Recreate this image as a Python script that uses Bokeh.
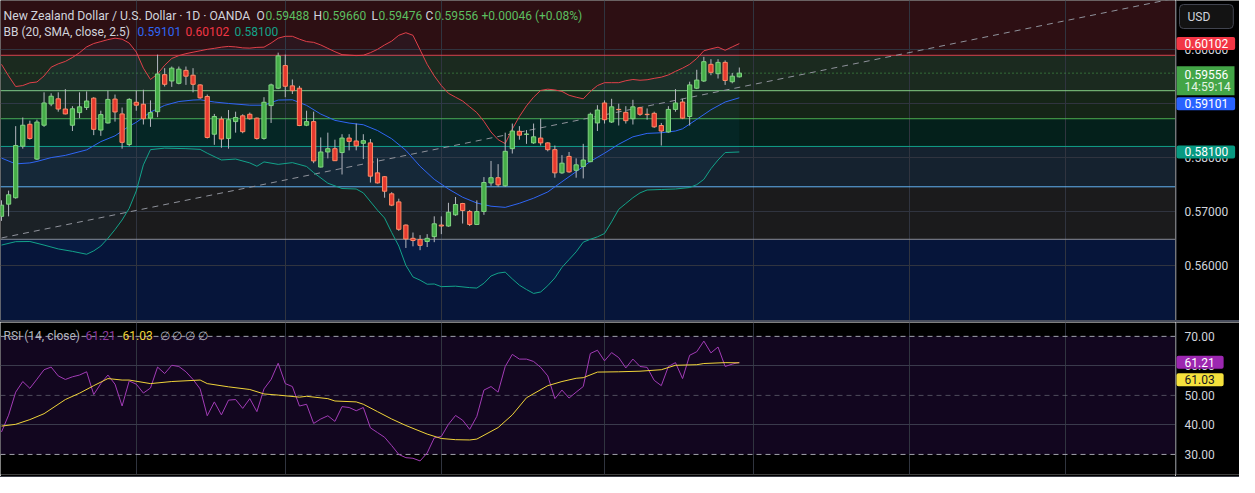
from bokeh.plotting import figure
from bokeh.models import (Range1d, FixedTicker, BoxAnnotation, Span, Label, Div, ColumnDataSource)
from bokeh.core.properties import value
from bokeh.layouts import column, row
from bokeh.embed import file_html
from bokeh.resources import INLINE

# ---------------- data (NZD/USD daily) ----------------
open_ = [0.56911, 0.57136, 0.57255, 0.58207, 0.58612, 0.57969, 0.58594, 0.58987, 0.59082, 0.58893,
         0.58594, 0.58827, 0.58921, 0.59094, 0.58505, 0.58636, 0.59077, 0.58803, 0.58237, 0.59018,
         0.58982, 0.58725, 0.58844, 0.59528, 0.59411, 0.59368, 0.59607, 0.59518, 0.59339, 0.59125,
         0.58428, 0.58707, 0.58350, 0.58661, 0.58768, 0.58796, 0.58725, 0.58350, 0.58957, 0.59278,
         0.59696, 0.59321, 0.59278, 0.58594, 0.58661, 0.57821, 0.58100, 0.58161, 0.58089, 0.58357,
         0.58303, 0.58260, 0.58268, 0.57714, 0.57643, 0.57327, 0.57178, 0.56750, 0.56505, 0.56482,
         0.56446, 0.56536, 0.56750, 0.56732, 0.56939, 0.57148, 0.57000, 0.56761, 0.57000, 0.57528,
         0.57625, 0.57475, 0.58161, 0.58482, 0.58425, 0.58268, 0.58357, 0.58268, 0.58143, 0.57714,
         0.58018, 0.57761, 0.57832, 0.57921, 0.58636, 0.59005, 0.58653, 0.58887, 0.58832, 0.58714,
         0.58916, 0.58796, 0.58814, 0.58589, 0.58469, 0.58886, 0.59023, 0.58755, 0.59278, 0.59411,
         0.59719, 0.59546, 0.59755, 0.59398, 0.59488]
high = [0.57207, 0.57386, 0.58577, 0.58737, 0.58678, 0.58696, 0.59202, 0.59184, 0.59202, 0.59261,
        0.58946, 0.59202, 0.59219, 0.59112, 0.58862, 0.59232, 0.59161, 0.58921, 0.59094, 0.59232,
        0.59250, 0.59053, 0.59898, 0.59648, 0.59678, 0.59678, 0.59678, 0.59648, 0.59350, 0.59161,
        0.58803, 0.58755, 0.58875, 0.58844, 0.58796, 0.58827, 0.58737, 0.59112, 0.59362, 0.59934,
        0.59898, 0.59439, 0.59321, 0.58862, 0.58844, 0.58368, 0.58457, 0.58327, 0.58428, 0.58428,
        0.58625, 0.58428, 0.58339, 0.57982, 0.57653, 0.57357, 0.57237, 0.56761, 0.56612, 0.56564,
        0.56582, 0.56911, 0.56911, 0.57161, 0.57268, 0.57160, 0.57029, 0.57207, 0.57636, 0.57934,
        0.57875, 0.58457, 0.58625, 0.58577, 0.58505, 0.58625, 0.58714, 0.58278, 0.58219, 0.58041,
        0.58100, 0.57982, 0.58250, 0.58827, 0.58964, 0.59053, 0.59082, 0.58993, 0.58946, 0.59064,
        0.58934, 0.58904, 0.58844, 0.58636, 0.58946, 0.59261, 0.59082, 0.59398, 0.59618, 0.59857,
        0.59814, 0.59814, 0.59791, 0.59559, 0.59660]
low = [0.56827, 0.56911, 0.57237, 0.58161, 0.58327, 0.57952, 0.58564, 0.58946, 0.58844, 0.58795,
       0.58487, 0.58725, 0.58875, 0.58411, 0.58398, 0.58625, 0.58661, 0.58161, 0.58207, 0.58862,
       0.58607, 0.58564, 0.58743, 0.59309, 0.59303, 0.59350, 0.59339, 0.59202, 0.59082, 0.58350,
       0.58232, 0.58178, 0.58161, 0.58457, 0.58446, 0.58696, 0.58327, 0.58327, 0.58636, 0.59261,
       0.59112, 0.59171, 0.58577, 0.58577, 0.57893, 0.57814, 0.57982, 0.57934, 0.57684, 0.58130,
       0.58130, 0.57969, 0.57535, 0.57518, 0.57255, 0.57100, 0.56643, 0.56327, 0.56357, 0.56286,
       0.56344, 0.56434, 0.56582, 0.56719, 0.56921, 0.56778, 0.56732, 0.56750, 0.56939, 0.57475,
       0.57457, 0.57457, 0.58071, 0.58327, 0.58250, 0.58250, 0.58219, 0.58112, 0.57625, 0.57696,
       0.57714, 0.57625, 0.57612, 0.57911, 0.58487, 0.58625, 0.58636, 0.58589, 0.58625, 0.58607,
       0.58768, 0.58696, 0.58546, 0.58219, 0.58457, 0.58844, 0.58707, 0.58589, 0.59261, 0.59393,
       0.59518, 0.59457, 0.59339, 0.59368, 0.59476]
close = [0.57118, 0.57309, 0.58219, 0.58594, 0.58350, 0.58653, 0.59005, 0.59130, 0.58893, 0.58803,
         0.58898, 0.58934, 0.59041, 0.58518, 0.58791, 0.59071, 0.58839, 0.58278, 0.59071, 0.58964,
         0.58714, 0.58827, 0.59541, 0.59350, 0.59648, 0.59630, 0.59500, 0.59350, 0.59100, 0.58368,
         0.58755, 0.58339, 0.58696, 0.58737, 0.58475, 0.58714, 0.58350, 0.59018, 0.59339, 0.59875,
         0.59314, 0.59232, 0.58589, 0.58661, 0.57934, 0.58100, 0.58161, 0.57939, 0.58357, 0.58296,
         0.58214, 0.58309, 0.57653, 0.57528, 0.57375, 0.57118, 0.56671, 0.56493, 0.56464, 0.56375,
         0.56505, 0.56773, 0.56732, 0.56987, 0.57130, 0.57018, 0.56761, 0.57000, 0.57536, 0.57625,
         0.57493, 0.58112, 0.58487, 0.58411, 0.58432, 0.58380, 0.58268, 0.58143, 0.57714, 0.57893,
         0.57732, 0.57862, 0.57952, 0.58796, 0.58875, 0.58696, 0.58934, 0.58880, 0.58678, 0.58934,
         0.58796, 0.58790, 0.58564, 0.58487, 0.58886, 0.59005, 0.58725, 0.59339, 0.59428, 0.59768,
         0.59571, 0.59755, 0.59421, 0.59500, 0.59556]

# Bollinger Bands (20, SMA, close, 2.5)
bb_upper = [0.59719, 0.59505, 0.59309, 0.59327, 0.59377, 0.59393, 0.59505, 0.59666, 0.59728, 0.59773,
            0.59845, 0.59934, 0.60041, 0.60103, 0.60139, 0.60175, 0.60202, 0.60184, 0.60112, 0.59946,
            0.59648, 0.59439, 0.59541, 0.59702, 0.59827, 0.59880, 0.59916, 0.59943, 0.59969, 0.59996,
            0.60014, 0.60036, 0.60050, 0.60041, 0.60023, 0.60018, 0.60032, 0.60036, 0.60112, 0.60202,
            0.60237, 0.60237, 0.60184, 0.60139, 0.60125, 0.60077, 0.60014, 0.59952, 0.59898, 0.59889,
            0.59880, 0.59886, 0.59934, 0.59996, 0.60077, 0.60148, 0.60255, 0.60303, 0.60255, 0.59987,
            0.59719, 0.59505, 0.59327, 0.59184, 0.59112, 0.59041, 0.58934, 0.58827, 0.58666, 0.58469,
            0.58327, 0.58255, 0.58523, 0.58755, 0.58952, 0.59112, 0.59237, 0.59260, 0.59246, 0.59219,
            0.59148, 0.59112, 0.59082, 0.59219, 0.59327, 0.59380, 0.59380, 0.59380, 0.59416, 0.59439,
            0.59425, 0.59434, 0.59460, 0.59482, 0.59523, 0.59589, 0.59648, 0.59719, 0.59827, 0.59969,
            0.60005, 0.60036, 0.59978, 0.60041, 0.60102]
bb_mid_x = [0, 2, 4, 5, 7, 9, 12, 14, 16, 18, 19, 21, 23, 25, 27, 28, 30, 32, 35, 37,
            39, 41, 43, 45, 47, 49, 51, 53, 55, 57, 59, 61, 63, 65, 67, 69, 71, 73, 75, 77,
            79, 81, 83, 85, 87, 89, 91, 93, 95, 96, 98, 100, 102, 104]
bb_mid = [0.57987, 0.57880, 0.57898, 0.57925, 0.57996, 0.58037, 0.58139, 0.58291, 0.58398, 0.58577,
          0.58648, 0.58836, 0.58961, 0.59032, 0.59059, 0.59064, 0.59023, 0.58996, 0.58964, 0.58964,
          0.59059, 0.59064, 0.58961, 0.58800, 0.58684, 0.58634, 0.58603, 0.58496, 0.58344, 0.58130,
          0.57836, 0.57594, 0.57416, 0.57264, 0.57157, 0.57098, 0.57077, 0.57152, 0.57246, 0.57362,
          0.57550, 0.57737, 0.57925, 0.58077, 0.58243, 0.58380, 0.58443, 0.58455, 0.58487, 0.58528,
          0.58702, 0.58880, 0.59023, 0.59101]
bb_low_x = [0, 2, 4, 6, 8, 10, 12, 13, 14, 15, 16, 17, 18, 19, 20, 21, 23, 26, 28, 29,
            31, 33, 35, 36, 37, 39, 41, 43, 44, 46, 48, 50, 51, 53, 54, 55, 56, 57, 58, 59,
            60, 61, 62, 64, 66, 67, 68, 69, 70, 71, 72, 73, 74, 75, 76, 77, 78, 79, 80, 81,
            82, 83, 84, 85, 86, 87, 88, 89, 90, 91, 93, 95, 97, 98, 99, 100, 101, 102, 104]
bb_low = [0.56380, 0.56443, 0.56446, 0.56380, 0.56309, 0.56264, 0.56211, 0.56273, 0.56362, 0.56505,
          0.56666, 0.56844, 0.57059, 0.57380, 0.57862, 0.58143, 0.58171, 0.58161, 0.58148, 0.58077,
          0.57952, 0.57969, 0.57898, 0.57836, 0.57916, 0.57871, 0.57903, 0.57832, 0.57719, 0.57523,
          0.57425, 0.57416, 0.57344, 0.57023, 0.56880, 0.56612, 0.56362, 0.56005, 0.55791, 0.55732,
          0.55657, 0.55661, 0.55612, 0.55621, 0.55594, 0.55586, 0.55675, 0.55809, 0.55862, 0.55880,
          0.55755, 0.55639, 0.55559, 0.55487, 0.55514, 0.55630, 0.55773, 0.55969, 0.56112, 0.56255,
          0.56434, 0.56487, 0.56532, 0.56594, 0.56809, 0.57041, 0.57148, 0.57255, 0.57344, 0.57398,
          0.57407, 0.57416, 0.57443, 0.57496, 0.57594, 0.57791, 0.57952, 0.58089, 0.58100]

# RSI (14, close) and its moving average
rsi = [37.6, 43.3, 51.1, 54.7, 52.4, 55.5, 58.7, 59.6, 56.6, 55.4,
       56.3, 56.9, 58.0, 50.3, 54.0, 56.9, 53.8, 46.4, 54.9, 53.8,
       50.8, 52.5, 59.6, 57.4, 60.2, 59.8, 58.0, 55.4, 52.2, 43.1,
       47.8, 43.4, 48.4, 48.6, 45.6, 48.9, 44.5, 52.2, 55.4, 60.9,
       54.0, 53.0, 46.4, 47.0, 40.5, 42.0, 43.1, 41.2, 46.2, 45.9,
       44.8, 45.9, 39.0, 37.4, 35.8, 33.0, 30.0, 28.9, 28.7, 27.8,
       30.5, 35.6, 36.1, 40.2, 43.2, 41.6, 38.5, 42.9, 51.8, 53.0,
       51.1, 59.8, 63.9, 62.3, 62.3, 61.5, 59.5, 56.6, 48.9, 51.8,
       49.1, 51.1, 53.0, 64.2, 65.3, 61.7, 64.5, 62.8, 59.3, 62.3,
       59.8, 59.5, 55.1, 53.3, 59.8, 61.1, 55.7, 63.6, 64.8, 68.4,
       64.4, 66.4, 59.8, 60.6, 61.21]
rsi_ma_x = [0, 2, 4, 6, 9, 11, 13, 15, 17, 18, 21, 24, 28, 29, 32, 35, 37, 39, 42, 43,
            46, 47, 50, 51, 53, 55, 57, 60, 62, 64, 66, 67, 70, 72, 74, 77, 79, 81, 82, 84,
            87, 90, 93, 95, 98, 99, 102, 104]
rsi_ma = [39.6, 40.2, 41.8, 43.8, 48.6, 50.75, 53.3, 55.7, 55.2, 55.2, 54.0, 54.7, 55.2, 54.0,
          52.9, 52.0, 50.5, 50.1, 49.4, 49.7, 48.9, 48.1, 47.8, 47.0, 44.5, 42.0, 39.8, 36.9,
          35.4, 35.0, 34.9, 35.2, 39.1, 43.4, 49.2, 53.3, 54.7, 55.8, 56.0, 57.9, 58.0, 58.2,
          58.7, 60.2, 60.4, 60.8, 61.1, 61.03]

# drawings: levels (top to bottom), trend line, month grid, scale ticks
fib_levels = [0.59886, 0.59232, 0.58714, 0.58202, 0.57457, 0.56487]
trend_x = [0, 165]
trend_y = [0.56512, 0.60927]
month_ticks = [19, 40, 62, 85, 106, 128, 150]
price_ticks = [0.56, 0.57, 0.58, 0.59, 0.60]
price_tick_labels = ["0.56000", "0.57000", "0.58000", "0.59000", "0.60000"]
rsi_ticks = [30, 40, 50, 60, 70]
rsi_tick_labels = ["30.00", "40.00", "50.00", "60.00", "70.00"]

# ---------------- layout / style ----------------
FONT = "Roboto"
X_START, X_END = -0.14, 165.48
P_BOTTOM, P_TOP = 0.54987, 0.60898
R_BOTTOM, R_TOP = 23.2, 74.7
FW, AXW, MH, RH = 1175, 64, 320, 152
PX = (P_TOP - P_BOTTOM) / MH          # price per screen pixel in the main pane
GRID = "#30343f"
TXT = "#d1d4dc"
AXIS_LINE = "#5d606b"
UP_FILL, UP_LINE = "#45ad48", "#80d482"
DN_FILL, DN_LINE = "#e6392f", "#ff8a65"

band_colors = ["#2d0f13", "#1b2a1f", "#152517", "#04201b", "#15222f", "#1b1b1c", "#06153a"]
level_colors = ["#d9444e", "#86cf86", "#4caf50", "#12a08a", "#64b5f6", "#8a8d96"]


def base_fig(w, h, xr, yr, bottom=0):
    f = figure(frame_width=w, frame_height=h, x_range=xr, y_range=yr,
               output_backend="svg", toolbar_location=None,
               x_axis_location=None, y_axis_location=None,
               min_border_left=0, min_border_right=0, min_border_top=0, min_border_bottom=bottom,
               background_fill_color="#000000", border_fill_color="#000000",
               outline_line_color=None)
    return f


p = base_fig(FW, MH, Range1d(X_START, X_END), Range1d(P_BOTTOM, P_TOP))

# background zones
bounds = [None] + fib_levels + [None]
for i, col in enumerate(band_colors):
    p.add_layout(BoxAnnotation(top=bounds[i], bottom=bounds[i + 1], fill_color=col,
                               fill_alpha=1.0, line_color=None, level="image"))

p.ygrid.ticker = FixedTicker(ticks=price_ticks)
p.ygrid.grid_line_color = GRID
p.xgrid.ticker = FixedTicker(ticks=month_ticks)
p.xgrid.grid_line_color = GRID

for lvl, col in zip(fib_levels, level_colors):
    p.add_layout(Span(location=lvl, dimension="width", line_color=col,
                      line_width=1, level="underlay"))

# BB fill between the bands
bb_x_all = list(range(len(bb_upper)))
p.patch(bb_x_all + bb_low_x[::-1], bb_upper + bb_low[::-1],
        fill_color="#2196f3", fill_alpha=0.05, line_color=None)

# trend line
p.line(trend_x, trend_y, line_color="#8f929b", line_width=1, line_dash="6 5")

# last price dotted line
p.add_layout(Span(location=close[-1], dimension="width", line_color="#4caf50",
                  line_width=1, line_dash="1 3", level="underlay"))

# BB lines
p.line(bb_x_all, bb_upper, line_color="#e0404a", line_width=1)
p.line(bb_mid_x, bb_mid, line_color="#2f66f5", line_width=1)
p.line(bb_low_x, bb_low, line_color="#13a38a", line_width=1)

# candles
idx = list(range(len(close)))
is_up = [c >= o for o, c in zip(open_, close)]
src = ColumnDataSource(dict(
    x=idx, high=high, low=low,
    top=[max(o, c) for o, c in zip(open_, close)],
    bottom=[min(o, c) for o, c in zip(open_, close)],
    fill=[UP_FILL if u else DN_FILL for u in is_up],
    line=[UP_LINE if u else DN_LINE for u in is_up],
))
p.segment(x0="x", y0="low", x1="x", y1="high", source=src, line_color="#b4b7bf", line_width=1)
p.vbar(x="x", width=0.6, top="top", bottom="bottom", fill_color="fill",
       line_color="line", line_width=1, source=src)


# legend texts
def stext(fig, x, y, text, color, size="12px"):
    fig.add_layout(Label(x=x, y=y, x_units="screen", y_units="screen", text=text,
                         text_color=color, text_font=FONT, text_font_size=size,
                         text_baseline="middle", text_align="left"))


GREEN_T = "#5cbf60"
L1 = MH - 15
stext(p, 3, L1, "New Zealand Dollar / U.S. Dollar · 1D · OANDA", TXT, "12.2px")
stext(p, 256, L1, "O", TXT)
stext(p, 265, L1, "0.59488", GREEN_T)
stext(p, 313, L1, "H", TXT)
stext(p, 322, L1, "0.59660", GREEN_T)
stext(p, 371, L1, "L", TXT)
stext(p, 378, L1, "0.59476", GREEN_T)
stext(p, 425, L1, "C", TXT)
stext(p, 434, L1, "0.59556", GREEN_T)
stext(p, 481, L1, "+0.00046 (+0.08%)", GREEN_T)
L2 = MH - 31
stext(p, 3, L2, "BB (20, SMA, close, 2.5)", TXT)
stext(p, 137, L2, "0.59101", "#2f66f5")
stext(p, 185, L2, "0.60102", "#f23645")
stext(p, 234, L2, "0.58100", "#13a38a")


# ---------------- price scales (right-hand columns) ----------------
def scale_fig(yr, h, ticks, labels, bottom=0):
    a = base_fig(AXW, h, Range1d(0, AXW), yr, bottom)
    a.xgrid.visible = False
    a.ygrid.visible = False
    a.add_layout(Span(location=0.5, dimension="height", line_color=AXIS_LINE, line_width=1))
    a.text(x=[9] * len(ticks), y=ticks, text=labels, text_color=TXT,
           text_font=value(FONT), text_font_size="12px",
           text_baseline="middle", text_align="left")
    return a


def badge(fig, y, text, bg, fg="#ffffff", y_offset=0, pad=None):
    fig.add_layout(Label(x=1, y=y, text=text, text_color=fg, text_font=FONT,
                         text_font_size="12px", text_baseline="middle", text_align="left",
                         background_fill_color=bg, border_radius=2, y_offset=y_offset,
                         padding=pad or dict(left=8, right=7, top=2, bottom=2)))


def plain(fig, x, y, text, color, y_offset=0):
    fig.add_layout(Label(x=x, y=y, text=text, text_color=color, text_font=FONT,
                         text_font_size="12px", text_baseline="middle", text_align="left",
                         y_offset=y_offset))


pa = scale_fig(p.y_range, MH, price_ticks, price_tick_labels)
badge(pa, 0.60102, "0.60102", "#f23645")
# last price badge: one green box holding price and bar countdown
last = close[-1]
pa.quad(left=[1], right=[59], top=[last + 7 * PX], bottom=[last - 22 * PX],
        fill_color="#43a547", line_color=None)
plain(pa, 9, last, "0.59556", "#ffffff", y_offset=-1)
plain(pa, 9, last, "14:59:14", "#e3f3e3", y_offset=-14)
badge(pa, 0.59101, "0.59101", "#2962ff", y_offset=-6)
badge(pa, 0.58100, "0.58100", "#089981")
pa.add_layout(Label(x=4, y=0.60602, text="USD", text_color=TXT, text_font=FONT,
                    text_font_size="12px", text_baseline="middle", text_align="left",
                    background_fill_color="#131313", border_line_color="#434651",
                    border_radius=4, padding=dict(left=8, right=23, top=5, bottom=5)))

# ---------------- RSI pane ----------------
r = base_fig(FW, RH, p.x_range, Range1d(R_BOTTOM, R_TOP), bottom=2)
r.add_layout(BoxAnnotation(bottom=30, top=70, fill_color="#12061f", fill_alpha=1.0,
                           line_color=None, level="image"))
r.ygrid.ticker = FixedTicker(ticks=[40, 60])
r.ygrid.grid_line_color = "#3a3a4c"
r.xgrid.ticker = FixedTicker(ticks=month_ticks)
r.xgrid.grid_line_color = GRID
for lvl, col, a in [(70, "#b2b5be", 0.9), (50, "#787b86", 0.6), (30, "#b2b5be", 0.9)]:
    r.add_layout(Span(location=lvl, dimension="width", line_color=col, line_alpha=a,
                      line_width=1, line_dash="5 4", level="underlay"))
r.line(idx, rsi, line_color="#a23cb6", line_width=1)
r.line(rsi_ma_x, rsi_ma, line_color="#f0d43a", line_width=1)

R1 = RH - 13
stext(r, 3, R1, "RSI (14, close)", "#b2b5be")
stext(r, 85, R1, "61.21", "#8e3ca0")
stext(r, 122, R1, "61.03", "#f0d43a")
stext(r, 159, R1, "∅  ∅  ∅  ∅", "#b2b5be")

ra = scale_fig(r.y_range, RH, rsi_ticks, rsi_tick_labels, bottom=2)
badge(ra, rsi[-1], "61.21", "#9c27b0", pad=dict(left=8, right=9, top=2, bottom=2))
badge(ra, rsi_ma[-1], "61.03", "#f5e13c", fg="#131722", y_offset=-17,
      pad=dict(left=8, right=9, top=2, bottom=2))

sep = Div(width=FW + AXW, height=2, margin=(0, 0, 0, 0),
          styles={"background-color": "#4a4f5e"})
bottom_line = Div(width=FW + AXW, height=1, margin=(0, 0, 0, 0),
                  styles={"background-color": "#3a3d47"})

layout = column(row(p, pa, spacing=0), sep, row(r, ra, spacing=0), bottom_line, spacing=0)
open("out.html", "w").write(file_html(layout, INLINE, "NZDUSD"))
